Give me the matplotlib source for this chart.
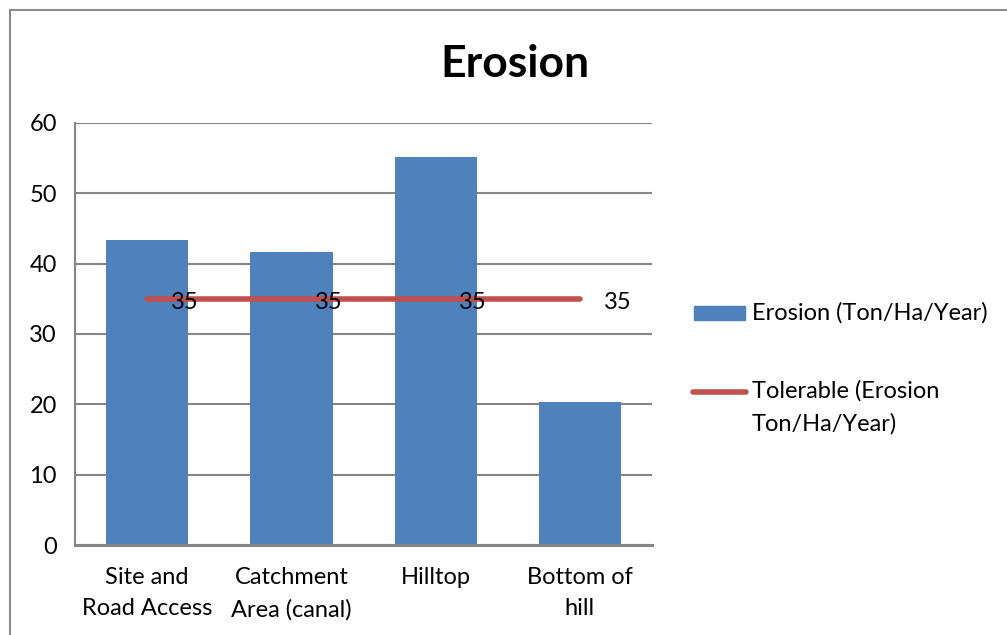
import matplotlib
matplotlib.use("Agg")
import matplotlib.pyplot as plt
from matplotlib.patches import Rectangle
from matplotlib.lines import Line2D

plt.rcParams['font.family'] = ['Lato', 'DejaVu Sans']

categories = ["Site and\nRoad Access", "Catchment\nArea (canal)", "Hilltop", "Bottom of\nhill"]
erosion = [43.3, 41.7, 55.1, 20.3]
tolerable = [35, 35, 35, 35]
y_ticks = [0, 10, 20, 30, 40, 50, 60]

bar_color = "#4F81BD"
line_color = "#C0504D"
grid_color = "#868686"
fs = 17

fig = plt.figure(figsize=(10.07, 6.35), dpi=100)

# outer chart border
fig.patches.append(Rectangle((0.0099, -0.01), 1.0, 0.995, transform=fig.transFigure,
                             fill=False, edgecolor="#8c8c8c", linewidth=1.5))

ax = fig.add_axes([0.0745, 0.1417, 0.573, 0.665])
x = list(range(len(categories)))
ax.bar(x, erosion, width=0.57, color=bar_color, zorder=2)
ax.plot(x, tolerable, color=line_color, linewidth=4, solid_capstyle='round', zorder=3)
for xi, v in zip(x, tolerable):
    ax.annotate(f"{v}", (xi, v), xytext=(27, -3), textcoords="offset points",
                ha="center", va="center", fontsize=fs, color="black", zorder=4)

ax.set_xlim(-0.5, len(categories) - 0.5)
ax.set_ylim(0, 60)
ax.set_yticks(y_ticks)
ax.set_xticks(x)
ax.set_xticklabels(categories, fontsize=fs, linespacing=1.6)
ax.tick_params(axis='y', labelsize=fs, length=0, pad=13)
ax.tick_params(axis='x', length=0, pad=16)
ax.yaxis.grid(True, color=grid_color, linewidth=1.5, zorder=0)
ax.set_axisbelow(True)
for s in ["top", "right"]:
    ax.spines[s].set_visible(False)
ax.spines["left"].set_color(grid_color)
ax.spines["left"].set_linewidth(1.5)
ax.spines["bottom"].set_color(grid_color)
ax.spines["bottom"].set_linewidth(2.2)

fig.text(0.511, 0.899, "Erosion", ha="center", va="center", fontsize=32, fontweight="bold")

# legend
W, H = 1007, 635
fig.patches.append(Rectangle((694 / W, 1 - 320 / H), 51 / W, 14 / H,
                             transform=fig.transFigure, color=bar_color))
fig.text(752 / W, 1 - 313 / H, "Erosion (Ton/Ha/Year)", fontsize=fs, va="center", ha="left")
fig.lines.append(Line2D([693 / W, 746 / W], [1 - 392 / H, 1 - 392 / H], transform=fig.transFigure,
                        color=line_color, linewidth=4, solid_capstyle='round'))
fig.text(752 / W, 1 - 380 / H, "Tolerable (Erosion\nTon/Ha/Year)", fontsize=fs, va="top", ha="left",
         linespacing=1.65)

fig.savefig("out.png", dpi=100)
